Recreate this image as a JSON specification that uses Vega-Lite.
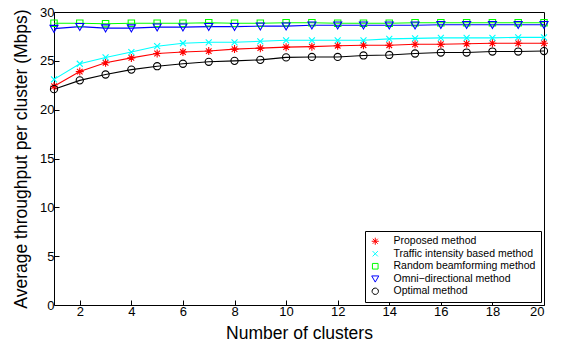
{
  "$schema": "https://vega.github.io/schema/vega-lite/v6.json",
  "width": 490,
  "height": 293,
  "autosize": "none",
  "padding": {"left": 54, "top": 12, "right": 18, "bottom": 39},
  "background": "white",
  "config": {
    "view": {"stroke": "black", "strokeWidth": 1},
    "font": "Liberation Sans",
    "axis": {
      "grid": false,
      "domain": false,
      "tickColor": "black",
      "tickSize": -5,
      "tickWidth": 1,
      "labelColor": "black",
      "labelFont": "Liberation Sans",
      "labelFontSize": 13,
      "titleFont": "Liberation Sans",
      "titleFontSize": 17.5,
      "titleFontWeight": "normal",
      "titleColor": "black"
    },
    "legend": {
      "labelFont": "Liberation Sans",
      "labelFontSize": 10.5,
      "labelColor": "black",
      "labelLimit": 400
    }
  },
  "data": {
    "values": [
      {"x": 1, "series": "Proposed method", "y": 22.4},
      {"x": 2, "series": "Proposed method", "y": 23.9},
      {"x": 3, "series": "Proposed method", "y": 24.8},
      {"x": 4, "series": "Proposed method", "y": 25.3},
      {"x": 5, "series": "Proposed method", "y": 25.75},
      {"x": 6, "series": "Proposed method", "y": 25.9},
      {"x": 7, "series": "Proposed method", "y": 26.0},
      {"x": 8, "series": "Proposed method", "y": 26.2},
      {"x": 9, "series": "Proposed method", "y": 26.3},
      {"x": 10, "series": "Proposed method", "y": 26.4},
      {"x": 11, "series": "Proposed method", "y": 26.45},
      {"x": 12, "series": "Proposed method", "y": 26.55},
      {"x": 13, "series": "Proposed method", "y": 26.6},
      {"x": 14, "series": "Proposed method", "y": 26.6},
      {"x": 15, "series": "Proposed method", "y": 26.7},
      {"x": 16, "series": "Proposed method", "y": 26.7},
      {"x": 17, "series": "Proposed method", "y": 26.75},
      {"x": 18, "series": "Proposed method", "y": 26.8},
      {"x": 19, "series": "Proposed method", "y": 26.8},
      {"x": 20, "series": "Proposed method", "y": 26.8},
      {"x": 1, "series": "Traffic intensity based method", "y": 23.1},
      {"x": 2, "series": "Traffic intensity based method", "y": 24.7},
      {"x": 3, "series": "Traffic intensity based method", "y": 25.35},
      {"x": 4, "series": "Traffic intensity based method", "y": 25.9},
      {"x": 5, "series": "Traffic intensity based method", "y": 26.5},
      {"x": 6, "series": "Traffic intensity based method", "y": 26.8},
      {"x": 7, "series": "Traffic intensity based method", "y": 26.9},
      {"x": 8, "series": "Traffic intensity based method", "y": 26.9},
      {"x": 9, "series": "Traffic intensity based method", "y": 27.0},
      {"x": 10, "series": "Traffic intensity based method", "y": 27.1},
      {"x": 11, "series": "Traffic intensity based method", "y": 27.1},
      {"x": 12, "series": "Traffic intensity based method", "y": 27.1},
      {"x": 13, "series": "Traffic intensity based method", "y": 27.1},
      {"x": 14, "series": "Traffic intensity based method", "y": 27.25},
      {"x": 15, "series": "Traffic intensity based method", "y": 27.3},
      {"x": 16, "series": "Traffic intensity based method", "y": 27.35},
      {"x": 17, "series": "Traffic intensity based method", "y": 27.35},
      {"x": 18, "series": "Traffic intensity based method", "y": 27.35},
      {"x": 19, "series": "Traffic intensity based method", "y": 27.4},
      {"x": 20, "series": "Traffic intensity based method", "y": 27.4},
      {"x": 1, "series": "Random beamforming method", "y": 28.85},
      {"x": 2, "series": "Random beamforming method", "y": 28.85},
      {"x": 3, "series": "Random beamforming method", "y": 28.8},
      {"x": 4, "series": "Random beamforming method", "y": 28.85},
      {"x": 5, "series": "Random beamforming method", "y": 28.85},
      {"x": 6, "series": "Random beamforming method", "y": 28.85},
      {"x": 7, "series": "Random beamforming method", "y": 28.9},
      {"x": 8, "series": "Random beamforming method", "y": 28.85},
      {"x": 9, "series": "Random beamforming method", "y": 28.85},
      {"x": 10, "series": "Random beamforming method", "y": 28.9},
      {"x": 11, "series": "Random beamforming method", "y": 28.9},
      {"x": 12, "series": "Random beamforming method", "y": 28.85},
      {"x": 13, "series": "Random beamforming method", "y": 28.85},
      {"x": 14, "series": "Random beamforming method", "y": 28.85},
      {"x": 15, "series": "Random beamforming method", "y": 28.9},
      {"x": 16, "series": "Random beamforming method", "y": 28.9},
      {"x": 17, "series": "Random beamforming method", "y": 28.9},
      {"x": 18, "series": "Random beamforming method", "y": 28.9},
      {"x": 19, "series": "Random beamforming method", "y": 28.9},
      {"x": 20, "series": "Random beamforming method", "y": 28.9},
      {"x": 1, "series": "Omni−directional method", "y": 28.3},
      {"x": 2, "series": "Omni−directional method", "y": 28.5},
      {"x": 3, "series": "Omni−directional method", "y": 28.35},
      {"x": 4, "series": "Omni−directional method", "y": 28.35},
      {"x": 5, "series": "Omni−directional method", "y": 28.45},
      {"x": 6, "series": "Omni−directional method", "y": 28.45},
      {"x": 7, "series": "Omni−directional method", "y": 28.5},
      {"x": 8, "series": "Omni−directional method", "y": 28.5},
      {"x": 9, "series": "Omni−directional method", "y": 28.55},
      {"x": 10, "series": "Omni−directional method", "y": 28.55},
      {"x": 11, "series": "Omni−directional method", "y": 28.65},
      {"x": 12, "series": "Omni−directional method", "y": 28.65},
      {"x": 13, "series": "Omni−directional method", "y": 28.65},
      {"x": 14, "series": "Omni−directional method", "y": 28.65},
      {"x": 15, "series": "Omni−directional method", "y": 28.65},
      {"x": 16, "series": "Omni−directional method", "y": 28.7},
      {"x": 17, "series": "Omni−directional method", "y": 28.7},
      {"x": 18, "series": "Omni−directional method", "y": 28.7},
      {"x": 19, "series": "Omni−directional method", "y": 28.7},
      {"x": 20, "series": "Omni−directional method", "y": 28.7},
      {"x": 1, "series": "Optimal method", "y": 22.1},
      {"x": 2, "series": "Optimal method", "y": 23.0},
      {"x": 3, "series": "Optimal method", "y": 23.6},
      {"x": 4, "series": "Optimal method", "y": 24.1},
      {"x": 5, "series": "Optimal method", "y": 24.45},
      {"x": 6, "series": "Optimal method", "y": 24.7},
      {"x": 7, "series": "Optimal method", "y": 24.9},
      {"x": 8, "series": "Optimal method", "y": 25.0},
      {"x": 9, "series": "Optimal method", "y": 25.1},
      {"x": 10, "series": "Optimal method", "y": 25.35},
      {"x": 11, "series": "Optimal method", "y": 25.4},
      {"x": 12, "series": "Optimal method", "y": 25.4},
      {"x": 13, "series": "Optimal method", "y": 25.55},
      {"x": 14, "series": "Optimal method", "y": 25.6},
      {"x": 15, "series": "Optimal method", "y": 25.75},
      {"x": 16, "series": "Optimal method", "y": 25.85},
      {"x": 17, "series": "Optimal method", "y": 25.85},
      {"x": 18, "series": "Optimal method", "y": 25.95},
      {"x": 19, "series": "Optimal method", "y": 25.95},
      {"x": 20, "series": "Optimal method", "y": 26.0}
    ]
  },
  "encoding": {
    "x": {"field": "x", "type": "quantitative", "scale": {"domain": [1, 20], "nice": false},
          "axis": {"orient": "bottom", "title": "Number of clusters", "values": [2,4,6,8,10,12,14,16,18,20], "labelPadding": 5, "titlePadding": 6}},
    "y": {"field": "y", "type": "quantitative", "scale": {"domain": [0, 30], "nice": false},
          "axis": {"orient": "left", "title": "Average throughput per cluster (Mbps)", "values": [0,5,10,15,20,25,30], "labelPadding": 5, "titleX": -24, "titleY": 146.5}},
    "color": {"field": "series", "type": "nominal",
              "scale": {"domain": ["Proposed method", "Traffic intensity based method", "Random beamforming method", "Omni−directional method", "Optimal method"],
                        "range": ["#ff0000", "#00ffff", "#00ff00", "#0000ff", "#000000"]},
              "legend": {"orient": "bottom-right", "offset": 3, "title": null, "padding": 5,
                         "strokeColor": "black", "fillColor": "white", "symbolOpacity": 1,
                         "symbolSize": 50, "symbolStrokeWidth": 1, "labelOffset": 13, "rowPadding": 1.5}}
  },
  "layer": [
    {
      "mark": {"type": "line", "strokeWidth": 1.1}
    },
    {
      "mark": {"type": "point", "filled": false, "strokeWidth": 1.1, "size": 64, "opacity": 1},
      "encoding": {
        "shape": {"field": "series", "type": "nominal",
                  "scale": {"domain": ["Proposed method", "Traffic intensity based method", "Random beamforming method", "Omni−directional method", "Optimal method"],
                            "range": ["M-1,0H1M0,-1V1M-0.7,-0.7L0.7,0.7M-0.7,0.7L0.7,-0.7",
                                      "M-0.75,-0.75L0.75,0.75M-0.75,0.75L0.75,-0.75",
                                      "M-0.8,-0.8H0.8V0.8H-0.8Z",
                                      "M-1,-0.8H1L0,0.95Z",
                                      "M-0.9,0A0.9,0.9 0 1,0 0.9,0A0.9,0.9 0 1,0 -0.9,0"]},
                  "legend": null}
      }
    }
  ]
}
